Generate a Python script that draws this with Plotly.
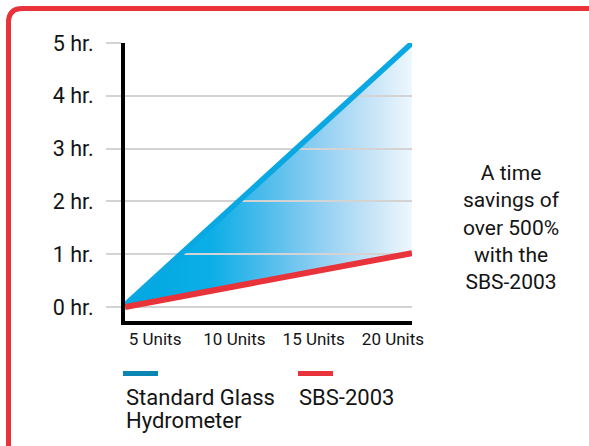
import plotly.graph_objects as go

# ---- data ----
units_ticks = [5, 10, 15, 20]
units_labels = ["5 Units", "10 Units", "15 Units", "20 Units"]
hour_ticks = [0, 1, 2, 3, 4, 5]
hour_labels = ["0 hr.", "1 hr.", "2 hr.", "3 hr.", "4 hr.", "5 hr."]
units_x = [3.1, 21.2]
glass_hours = [0.04, 5.0]
sbs_hours = [0.0, 1.02]
series_names = [["Standard Glass", "Hydrometer"], ["SBS-2003"]]
note_text = "A time<br>savings of<br>over 500%<br>with the<br>SBS-2003"

# ---- style ----
W_PX, H_PX = 589, 446
L, R, T, B = 125, 177, 43, 125
PW, PH = W_PX - L - R, H_PX - T - B
BLUE = "#0aa8e3"
BLUE_KEY = "#0b86b2"
RED = "#e8333b"
GRID = "#d3d3d3"
TXT = "#141414"
FONT = "Roboto"
XR = [3.1, 21.2]
YR = [-0.265, 5.0]


def px(xp):
    return (xp - L) / PW


def py(yp):
    return 1 - (yp - T) / PH


fig = go.Figure()

# subplot 1: gradient fill between the two series
fig.add_trace(go.Scatter(x=units_x, y=sbs_hours, mode="lines", line=dict(width=0),
                         hoverinfo="skip", showlegend=False))
fig.add_trace(go.Scatter(x=units_x, y=glass_hours, mode="lines", line=dict(width=0),
                         fill="tonexty",
                         fillgradient=dict(type="horizontal", colorscale=[
                             [0.0, "#00a7e1"], [0.3, "#0caee6"], [0.5, "#52bdec"],
                             [0.68, "#90cff2"], [0.85, "#c4e3f7"], [1.0, "#eef7fd"]]),
                         hoverinfo="skip", showlegend=False))

# subplot 2: grid / axes only (invisible helper trace)
fig.add_trace(go.Scatter(x=units_x, y=sbs_hours, xaxis="x2", yaxis="y2", mode="lines",
                         line=dict(width=0), opacity=0, hoverinfo="skip", showlegend=False))

# subplot 3: the lines
fig.add_trace(go.Scatter(x=units_x, y=glass_hours, xaxis="x3", yaxis="y3", mode="lines",
                         line=dict(color=BLUE, width=5.5), cliponaxis=False,
                         name=" ".join(series_names[0]), showlegend=False))
fig.add_trace(go.Scatter(x=units_x, y=sbs_hours, xaxis="x3", yaxis="y3", mode="lines",
                         line=dict(color=RED, width=6), cliponaxis=False,
                         name=" ".join(series_names[1]), showlegend=False))

hidden_x = dict(range=XR, visible=False, domain=[0, 1], fixedrange=True)
hidden_y = dict(range=YR, visible=False, domain=[0, 1], fixedrange=True)

fig.update_layout(
    width=W_PX, height=H_PX,
    margin=dict(l=L, r=R, t=T, b=B),
    paper_bgcolor="white", plot_bgcolor="rgba(0,0,0,0)",
    font=dict(family=FONT, color=TXT),
    showlegend=False,
    xaxis=dict(hidden_x, anchor="y"),
    yaxis=dict(hidden_y, anchor="x"),
    xaxis2=dict(range=XR, domain=[0, 1], anchor="y2", tickvals=units_ticks,
                ticktext=units_labels, showgrid=False, zeroline=False,
                showline=True, linecolor="black", linewidth=4, ticks="",
                tickfont=dict(size=17, color=TXT, family=FONT), fixedrange=True),
    yaxis2=dict(range=YR, domain=[0, 1], anchor="x2", tickvals=hour_ticks,
                ticktext=hour_labels, showgrid=True, gridcolor=GRID, gridwidth=2,
                zeroline=False, showline=True, linecolor="black", linewidth=4,
                ticks="outside", ticklen=15, tickwidth=2, tickcolor=GRID,
                ticklabelstandoff=8,
                tickfont=dict(size=21.5, color=TXT, family=FONT), fixedrange=True),
    xaxis3=dict(hidden_x, anchor="y3"),
    yaxis3=dict(hidden_y, anchor="x3"),
)

# red rounded frame
rad = 14
path = (f"M {px(8.5)},{py(470)} L {px(8.5)},{py(8.5 + rad)} "
        f"Q {px(8.5)},{py(8.5)} {px(8.5 + rad)},{py(8.5)} L {px(620)},{py(8.5)}")
fig.add_shape(type="path", path=path, xref="paper", yref="paper",
              line=dict(color=RED, width=5), layer="above")

# legend keys
for (xa, xb), col in [((123, 158), BLUE_KEY), ((298, 333), RED)]:
    fig.add_shape(type="line", xref="paper", yref="paper",
                  x0=px(xa), x1=px(xb), y0=py(373.5), y1=py(373.5),
                  line=dict(color=col, width=5))

for lines, xl in zip(series_names, [124, 297]):
    for i, line_txt in enumerate(lines):
        fig.add_annotation(text=line_txt, x=px(xl), y=py(397 + 23.5 * i),
                           xref="paper", yref="paper",
                           xanchor="left", yanchor="middle", align="left",
                           showarrow=False, font=dict(size=22, color=TXT, family=FONT))

fig.add_annotation(text=note_text, x=px(511), y=py(227), xref="paper", yref="paper",
                   xanchor="center", yanchor="middle", align="center", showarrow=False,
                   font=dict(size=21, color=TXT, family=FONT))

fig.write_html("out.html", config={"displayModeBar": False},
               post_script="document.body.style.margin='0';")
